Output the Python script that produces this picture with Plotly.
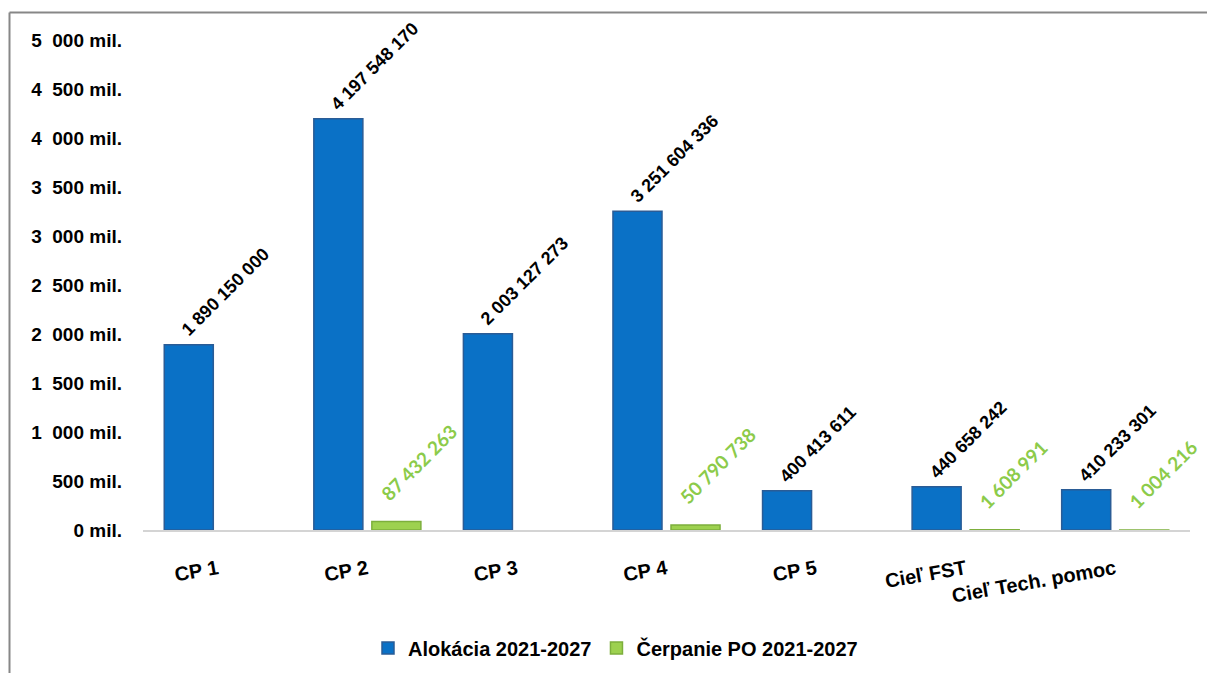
import plotly.graph_objects as go

categories = ["CP 1", "CP 2", "CP 3", "CP 4", "CP 5", "Cieľ FST", "Cieľ Tech. pomoc"]
alokacia = [1890150000, 4197548170, 2003127273, 3251604336, 400413611, 440658242, 410233301]
cerpanie = [None, 87432263, None, 50790738, None, 1608991, 1004216]
series_names = ["Alokácia 2021-2027", "Čerpanie PO 2021-2027"]
tick_vals = [0, 500e6, 1000e6, 1500e6, 2000e6, 2500e6, 3000e6, 3500e6, 4000e6, 4500e6, 5000e6]
tick_text = ["0 mil.", "500 mil.", "1\u00a0 000 mil.", "1\u00a0 500 mil.", "2\u00a0 000 mil.",
             "2\u00a0 500 mil.", "3\u00a0 000 mil.", "3\u00a0 500 mil.", "4\u00a0 000 mil.",
             "4\u00a0 500 mil.", "5\u00a0 000 mil."]

# page has an 8px body margin; size the figure to fill the rest of the window
OFF = 8
W, H = 1215 - OFF, 673 - OFF
# plot area in page pixels
PL, PR, PT, PB = 143, 1190, 40, 530
L, R, T, B = PL - OFF, W - (PR - OFF), PT - OFF, H - (PB - OFF)
PW, PH = W - L - R, H - T - B

FONT = "Liberation Sans Narrow, Arial Narrow, Liberation Sans, Arial, sans-serif"
BLUE = "#0A71C6"
BLUE_EDGE = "#2A5C96"
GREEN = "#9DD14F"
GREEN_EDGE = "#7DAF3C"
GREEN_TXT = "#8CCB4A"

def fmt(v):
    return f"{v:,}".replace(",", " ")

fig = go.Figure()
fig.add_trace(go.Bar(
    x=categories, y=alokacia, name=series_names[0],
    marker=dict(color=BLUE, line=dict(color=BLUE_EDGE, width=1.5)),
))
fig.add_trace(go.Bar(
    x=categories, y=cerpanie, name=series_names[1],
    marker=dict(color=GREEN, line=dict(color=GREEN_EDGE, width=1.5)),
))

annotations = []
for c, v in zip(categories, alokacia):
    annotations.append(dict(
        x=c, y=v, xref="x", yref="y", text=fmt(v), showarrow=False,
        textangle=-45, xanchor="left", yanchor="bottom", xshift=-43, yshift=2,
        font=dict(family=FONT, size=18, color="black", weight="bold"),
    ))
for c, v in zip(categories, cerpanie):
    if v is None:
        continue
    annotations.append(dict(
        x=c, y=v, xref="x", yref="y", text=fmt(v), showarrow=False,
        textangle=-45, xanchor="left", yanchor="bottom", xshift=6, yshift=14,
        font=dict(family="Lato, Open Sans, sans-serif", size=19, color=GREEN_TXT, weight="bold"),
    ))

def px_x(px):
    return (px - OFF - L) / PW

def px_y(py):
    return (H - B - (py - OFF)) / PH

shapes = [
    dict(type="line", xref="paper", yref="paper", x0=px_x(9.5), x1=px_x(1215), y0=px_y(12.5), y1=px_y(12.5),
         line=dict(color="#878787", width=2)),
    dict(type="line", xref="paper", yref="paper", x0=px_x(9.5), x1=px_x(9.5), y0=px_y(12.5), y1=px_y(673),
         line=dict(color="#878787", width=2)),
]

fig.update_layout(
    width=W, height=H,
    margin=dict(l=L, r=R, t=T, b=B, autoexpand=False),
    paper_bgcolor="white", plot_bgcolor="white",
    barmode="group", bargap=0.224, bargroupgap=0.155,
    font=dict(family=FONT, color="black"),
    showlegend=True,
    legend=dict(orientation="h", x=px_x(368), xanchor="left", y=px_y(648), yanchor="middle",
                font=dict(family=FONT, size=20, color="black", weight="bold"),
                itemwidth=30, tracegroupgap=0),
    annotations=annotations,
    shapes=shapes,
    xaxis=dict(
        range=[-0.5, 6.5], showline=True, linecolor="#D4D4D4", linewidth=2,
        showgrid=False, ticks="", tickangle=-10, ticklabelstandoff=18,
        tickfont=dict(family=FONT, size=20, color="black", weight="bold"),
    ),
    yaxis=dict(
        range=[0, 5000e6], tickvals=tick_vals, ticktext=tick_text,
        showgrid=False, zeroline=False, showline=False, ticks="",
        ticklabelstandoff=20,
        tickfont=dict(family=FONT, size=19, color="black", weight="bold"),
    ),
)

fig.write_html("out.html")
